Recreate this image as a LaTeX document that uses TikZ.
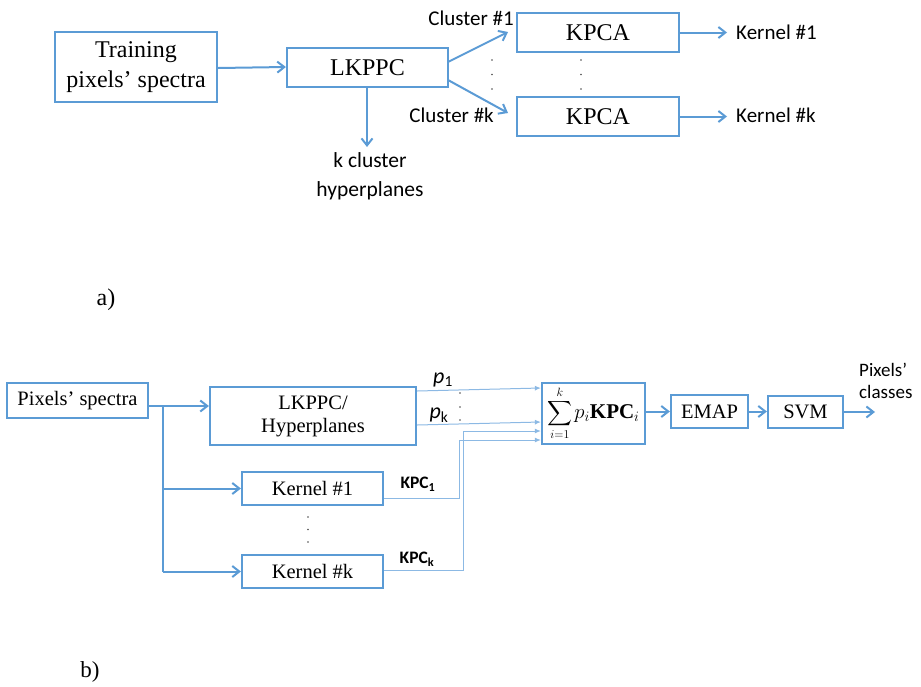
\documentclass[tikz,border=0pt]{standalone}
\usepackage{amsmath}
\usepackage{fontspec}
\setmainfont{Liberation Serif}
\newfontfamily\carl{Carlito}
\usetikzlibrary{arrows.meta}
\definecolor{bl}{RGB}{91,155,213}
\definecolor{bll}{RGB}{140,185,228}
\tikzset{
  box/.style={draw=bl,line width=2.2pt,inner sep=0pt,align=center},
  fa/.style={font=\fontsize{24}{30}\selectfont},
  fb/.style={font=\fontsize{20.5}{23}\selectfont},
  lab/.style={inner sep=0pt,font=\carl\fontsize{21}{25}\selectfont,align=center},
  conn/.style={draw=bl,line width=2pt,-{Straight Barb[length=7pt,width=11pt,line width=2pt]}},
  thin/.style={draw=bll,line width=1pt,-{Latex[length=6pt,width=5pt]}},
  dot/.style={circle,fill=black!70,inner sep=0pt,minimum size=1.8pt}
}
\begin{document}
\begin{tikzpicture}[x=1pt,y=-1pt]
\useasboundingbox (0,0) rectangle (921,686);
% ---------- part a ----------
\node[box,fa,minimum width=162pt,minimum height=70pt] (train) at (136,67) {Training\\pixels’ spectra};
\node[box,fa,minimum width=161pt,minimum height=39pt] (lk) at (367.5,67.5) {LKPPC};
\node[box,fa,minimum width=162pt,minimum height=39pt] (k1) at (598,32.5) {KPCA};
\node[box,fa,minimum width=162pt,minimum height=39pt] (kk) at (598,116.5) {KPCA};
\coordinate (hyp) at (367,147);
\node[lab,anchor=north,font=\carl\fontsize{21.5}{29}\selectfont] (hyptxt) at (370,152) {k cluster\\hyperplanes};
\coordinate (c1e) at (508,32);
\coordinate (cke) at (508,113);
\node[lab,anchor=east] (c1lab) at (514,18) {Cluster \#1};
\node[lab,anchor=east] (cklab) at (494,115) {Cluster \#k};
\node[lab,anchor=west] (ker1) at (736,32) {Kernel \#1};
\node[lab,anchor=west] (kerk) at (736,115) {Kernel \#k};
\draw[conn] (train.east |- 0,68) -- (lk.west |- 0,67);
\draw[conn] (lk.south -| hyp) -- (hyp);
\draw[conn] (448,62) -- (c1e);
\draw[conn] (448,80) -- (cke);
\draw[conn] (k1.east) -- (727,32.5);
\draw[conn] (kk.east) -- (727,116.5);
\foreach \y in {60,74.5,89} {\node[dot] at (492,\y) {}; \node[dot] at (581,\y) {};}
\node[fa,inner sep=0pt] (alab) at (106,300) {a)};
% ---------- part b ----------
\node[box,fb,minimum width=141pt,minimum height=35pt] (pix) at (77.5,400.5) {Pixels’ spectra};
\node[box,fb,minimum width=206pt,minimum height=58pt] (lkh) at (313,416) {LKPPC/\\Hyperplanes};
\node[box,fb,minimum width=141pt,minimum height=33pt] (kn1) at (312.5,488.5) {Kernel \#1};
\node[box,fb,minimum width=141pt,minimum height=33pt] (knk) at (312.5,571.5) {Kernel \#k};
\node[box,minimum width=103pt,minimum height=61pt] (sum) at (593.5,413.5) {{\fontsize{16.5}{18}\selectfont$\displaystyle\sum_{i=1}^{k}$}\kern2pt{\fontsize{21}{22}\selectfont$p_i$\textbf{KPC}$_i$}};
\node[box,fb,minimum width=77pt,minimum height=33pt] (emap) at (709.5,411.5) {EMAP};
\node[box,fb,minimum width=75pt,minimum height=32pt] (svm) at (805.5,412) {SVM};
\coordinate (out) at (875,412);
\node[lab,anchor=west,font=\carl\fontsize{19}{22}\selectfont,align=left] (cls) at (859,381) {Pixels’\\classes};
\coordinate (br) at (163,406);
\draw[conn] (pix.east |- br) -- (lkh.west |- br);
\draw[draw=bl,line width=2pt] (br) -- (163,571.5);
\draw[conn] (163,488.5) -- (kn1.west);
\draw[conn] (163,571.5) -- (knk.west);
\foreach \y in {517,529.5,542} {\node[dot] at (308,\y) {};}
% thin lines into sum
\draw[thin] (lkh.east |- 0,391) -- (sum.west |- 0,388);
\draw[thin] (lkh.east |- 0,425) -- (sum.west |- 0,422);
\draw[thin] (kn1.east |- 0,498) -- (459,498) -- (459,440) -- (sum.west |- 0,440);
\draw[thin] (knk.east |- 0,570) -- (463,570) -- (463,431) -- (sum.west |- 0,431);
\foreach \y in {393,407,420} {\node[dot,minimum size=1.6pt] at (460,\y) {};}
\node[inner sep=0pt,font=\carl\itshape\fontsize{22}{24}\selectfont] (p1) at (443,380) {p\textsubscript{\upshape 1}};
\node[inner sep=0pt,font=\carl\itshape\fontsize{22}{24}\selectfont] (pk) at (439,415) {p\textsubscript{\upshape k}};
\node[inner sep=0pt,font=\carl\bfseries\fontsize{17.5}{20}\selectfont] (kpc1) at (418,484) {KPC\textsubscript{1}};
\node[inner sep=0pt,font=\carl\bfseries\fontsize{17.5}{20}\selectfont] (kpck) at (417,559) {KPC\textsubscript{k}};
\draw[conn] (sum.east |- emap) -- (emap.west);
\draw[conn] (emap.east) -- (svm.west |- emap);
\draw[conn] (svm.east) -- (out);
\node[inner sep=0pt,font=\fontsize{23}{26}\selectfont] (blab) at (90,672) {b)};
\end{tikzpicture}
\end{document}
